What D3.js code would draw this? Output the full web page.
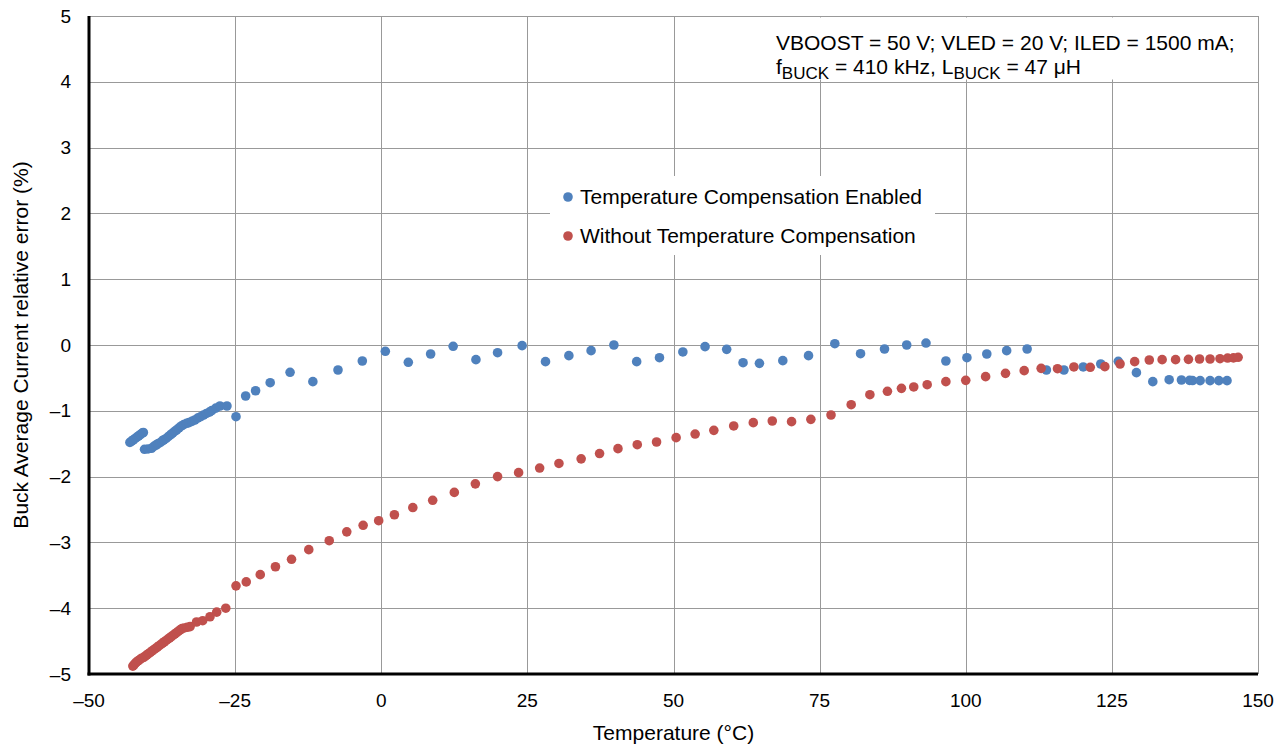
<!DOCTYPE html>
<head>
    <meta charset="utf-8">
    <style>
        body { margin: 0; background: #fff; }
        svg { display: block; font-family: 'Liberation Sans', Arial, sans-serif; }
        .grid line { stroke: #999; stroke-width: 1px; shape-rendering: crispEdges; }
        .tick-label { font-size: 19px; fill: #000; }
        .axis-title { font-size: 21px; fill: #000; }
        .legend-text { font-size: 21px; fill: #000; }
        .note { font-size: 21px; fill: #000; }
    </style>
</head>
<body>
    <div id="chart"></div>
    <script src="https://d3js.org/d3.v7.min.js"></script>
    <script>
        // temperature (°C) and relative error (%)
        var tempEnabled = [-43.0, -42.7, -42.4, -42.1, -41.8, -41.5, -41.2, -40.9, -40.7,
            -40.5, -39.9, -39.3, -38.9, -38.5, -38.2, -37.85, -37.5, -37.2, -36.8, -36.4, -36.0,
            -35.7, -35.3, -35.0, -34.6, -34.2, -33.8, -33.3, -32.9, -32.4, -31.9, -31.4, -30.9,
            -30.4, -29.9, -29.4, -29.0, -28.3, -27.6, -26.4, -24.85, -23.2, -21.5, -19.0, -15.6,
            -11.7, -7.4, -3.24, 0.7, 4.63, 8.45, 12.3, 16.2, 19.9, 24.1, 28.1, 32.1, 35.9, 39.8,
            43.7, 47.6, 51.6, 55.4, 59.1, 61.9, 64.7, 68.7, 73.1, 77.6, 82.0, 86.1, 89.9, 93.2,
            96.6, 100.2, 103.6, 107.0, 110.5, 113.8, 116.8, 120.1, 123.1, 126.1, 129.2, 132.0,
            134.8, 136.9, 138.3, 138.8, 140.1, 141.8, 143.3, 144.7];
        var errEnabled = [-1.48, -1.46, -1.44, -1.42, -1.40, -1.38, -1.36, -1.34, -1.33,
            -1.585, -1.58, -1.57, -1.54, -1.52, -1.50, -1.485, -1.46, -1.44, -1.42, -1.39, -1.36,
            -1.34, -1.31, -1.29, -1.26, -1.23, -1.21, -1.19, -1.18, -1.16, -1.14, -1.11, -1.09,
            -1.064, -1.04, -1.02, -0.998, -0.96, -0.927, -0.927, -1.09, -0.775, -0.695, -0.573, -0.415,
            -0.557, -0.38, -0.243, -0.096, -0.263, -0.137, -0.02, -0.223, -0.117, -0.01, -0.253, -0.162, -0.086, 0.0,
            -0.253, -0.193, -0.106, -0.025, -0.066, -0.269, -0.279, -0.238, -0.162, 0.02, -0.132, -0.061, 0.0, 0.03,
            -0.243, -0.193, -0.137, -0.086, -0.061, -0.38, -0.38, -0.334, -0.289, -0.248, -0.42, -0.557,
            -0.527, -0.532, -0.537, -0.54, -0.542, -0.542, -0.542, -0.542];

        var tempWithout = [-42.5, -42.3, -42.1, -41.9, -41.6, -41.3, -41.0, -40.7, -40.4, -40.1,
            -39.8, -39.5, -39.2, -38.9, -38.6, -38.3, -38.0, -37.7, -37.4, -37.1, -36.8, -36.5,
            -36.2, -35.9, -35.6, -35.3, -35.0, -34.7, -34.4, -34.1, -33.7, -33.2, -32.7, -31.6,
            -30.55, -29.3, -28.15, -26.6, -24.85, -23.1, -20.7, -18.1, -15.35, -12.4, -8.9, -5.9,
            -3.1, -0.44, 2.25, 5.4, 8.8, 12.5, 16.1, 19.9, 23.5, 27.1, 30.4, 34.2, 37.35, 40.5,
            43.8, 47.1, 50.45, 53.7, 56.9, 60.3, 63.65, 66.9, 70.2, 73.5, 76.95, 80.4, 83.6, 86.6,
            89.0, 91.1, 93.4, 96.6, 100.0, 103.4, 106.8, 110.0, 112.9, 115.7, 118.5, 121.3, 123.8,
            126.4, 128.9, 131.4, 133.6, 135.9, 138.1, 140.0, 141.8, 143.5, 144.8, 145.8, 146.6];
        var errWithout = [-4.88, -4.86, -4.84, -4.82, -4.80, -4.78, -4.76, -4.75, -4.73, -4.71,
            -4.69, -4.67, -4.65, -4.63, -4.61, -4.59, -4.57, -4.55, -4.53, -4.51, -4.49, -4.47,
            -4.45, -4.43, -4.41, -4.39, -4.37, -4.35, -4.33, -4.31, -4.30, -4.29, -4.28, -4.21,
            -4.19, -4.13, -4.06, -4.0, -3.66, -3.60, -3.49, -3.37, -3.257, -3.11, -2.974, -2.84,
            -2.74, -2.67, -2.58, -2.47, -2.36, -2.24, -2.11, -2.0, -1.94, -1.87, -1.80, -1.73, -1.65, -1.575,
            -1.515, -1.474, -1.408, -1.353, -1.297, -1.23, -1.18, -1.155, -1.165, -1.13, -1.064, -0.907, -0.755, -0.704,
            -0.659, -0.638, -0.603, -0.557, -0.537, -0.481, -0.431, -0.39, -0.355, -0.36, -0.334, -0.339, -0.329,
            -0.289, -0.253, -0.228, -0.223, -0.223, -0.218, -0.213, -0.213, -0.208, -0.198, -0.195, -0.187];

        var xTicks = [-50, -25, 0, 25, 50, 75, 100, 125, 150];
        var yTicks = [-5, -4, -3, -2, -1, 0, 1, 2, 3, 4, 5];
        var seriesNames = ["Temperature Compensation Enabled", "Without Temperature Compensation"];
        var seriesColors = ["#4F81BD", "#C0504D"];

        var W = 1286, H = 746;
        var margin = {top: 16, right: 28, bottom: 72, left: 89};

        var svg = d3.select("#chart").append("svg")
            .attr("width", W)
            .attr("height", H);

        var x = d3.scaleLinear().domain([-50, 150]).range([margin.left, W - margin.right]);
        var y = d3.scaleLinear().domain([-5, 5]).range([H - margin.bottom, margin.top]);

        function fmt(v) {
            return v < 0 ? "\u2013" + Math.abs(v) : String(v);
        }

        // gridlines
        var grid = svg.append("g").attr("class", "grid");
        grid.selectAll("line.v")
            .data(xTicks.slice(1))
            .enter().append("line")
            .attr("x1", function(d) { return Math.round(x(d)) + 0.5; })
            .attr("x2", function(d) { return Math.round(x(d)) + 0.5; })
            .attr("y1", y(5)).attr("y2", y(-5));
        grid.selectAll("line.h")
            .data(yTicks.slice(1))
            .enter().append("line")
            .attr("x1", x(-50)).attr("x2", x(150))
            .attr("y1", function(d) { return Math.round(y(d)) + 0.5; })
            .attr("y2", function(d) { return Math.round(y(d)) + 0.5; });

        // white backing for the conditions note
        svg.append("rect")
            .attr("x", 766).attr("y", y(5) + 1.5)
            .attr("width", x(150) - 766 - 1).attr("height", 62)
            .attr("fill", "#fff");

        // axes (thick black left + bottom)
        svg.append("line")
            .attr("x1", x(-50)).attr("x2", x(-50))
            .attr("y1", y(5)).attr("y2", y(-5) + 1.5)
            .attr("stroke", "#000").attr("stroke-width", 3);
        svg.append("line")
            .attr("x1", x(-50) - 1.5).attr("x2", x(150))
            .attr("y1", y(-5)).attr("y2", y(-5))
            .attr("stroke", "#000").attr("stroke-width", 3);

        // tick labels
        svg.selectAll("text.ytick")
            .data(yTicks)
            .enter().append("text")
            .attr("class", "tick-label")
            .attr("x", 71)
            .attr("y", function(d) { return y(d); })
            .attr("dy", "0.35em")
            .attr("text-anchor", "end")
            .text(fmt);
        svg.selectAll("text.xtick")
            .data(xTicks)
            .enter().append("text")
            .attr("class", "tick-label")
            .attr("x", function(d) { return x(d); })
            .attr("y", 707)
            .attr("text-anchor", "middle")
            .text(fmt);

        // axis titles
        svg.append("text")
            .attr("class", "axis-title")
            .attr("x", x(50)).attr("y", 740)
            .attr("text-anchor", "middle")
            .text("Temperature (\u00B0C)");
        svg.append("text")
            .attr("class", "axis-title")
            .attr("transform", "translate(28," + y(0) + ") rotate(-90)")
            .attr("text-anchor", "middle")
            .text("Buck Average Current relative error (%)");

        // points
        var enabled = tempEnabled.map(function(t, i) { return {t: t, v: errEnabled[i]}; });
        var without = tempWithout.map(function(t, i) { return {t: t, v: errWithout[i]}; });

        svg.append("g").selectAll("circle")
            .data(enabled)
            .enter().append("circle")
            .attr("cx", function(d) { return x(d.t); })
            .attr("cy", function(d) { return y(d.v); })
            .attr("r", 4.8)
            .attr("fill", seriesColors[0]);

        svg.append("g").selectAll("circle")
            .data(without)
            .enter().append("circle")
            .attr("cx", function(d) { return x(d.t); })
            .attr("cy", function(d) { return y(d.v); })
            .attr("r", 4.8)
            .attr("fill", seriesColors[1]);

        // legend
        var legend = svg.append("g");
        legend.append("rect")
            .attr("x", 550).attr("y", 176)
            .attr("width", 385).attr("height", 79)
            .attr("fill", "#fff");
        seriesNames.forEach(function(name, i) {
            var cy = 197 + i * 39;
            legend.append("circle")
                .attr("cx", 568).attr("cy", cy).attr("r", 4.8)
                .attr("fill", seriesColors[i]);
            legend.append("text")
                .attr("class", "legend-text")
                .attr("x", 580).attr("y", cy)
                .attr("dy", "0.35em")
                .text(name);
        });

        // conditions note
        var note = svg.append("g").attr("class", "note");
        note.append("text")
            .attr("x", 776).attr("y", 50)
            .text("VBOOST = 50 V; VLED = 20 V; ILED = 1500 mA;");
        var line2 = note.append("text").attr("x", 776).attr("y", 74);
        line2.append("tspan").text("f");
        line2.append("tspan").attr("dy", 5).attr("font-size", "17px").text("BUCK");
        line2.append("tspan").attr("dy", -5).text(" = 410 kHz, L");
        line2.append("tspan").attr("dy", 5).attr("font-size", "17px").text("BUCK");
        line2.append("tspan").attr("dy", -5).text(" = 47 \u03BCH");
    </script>
</body>
